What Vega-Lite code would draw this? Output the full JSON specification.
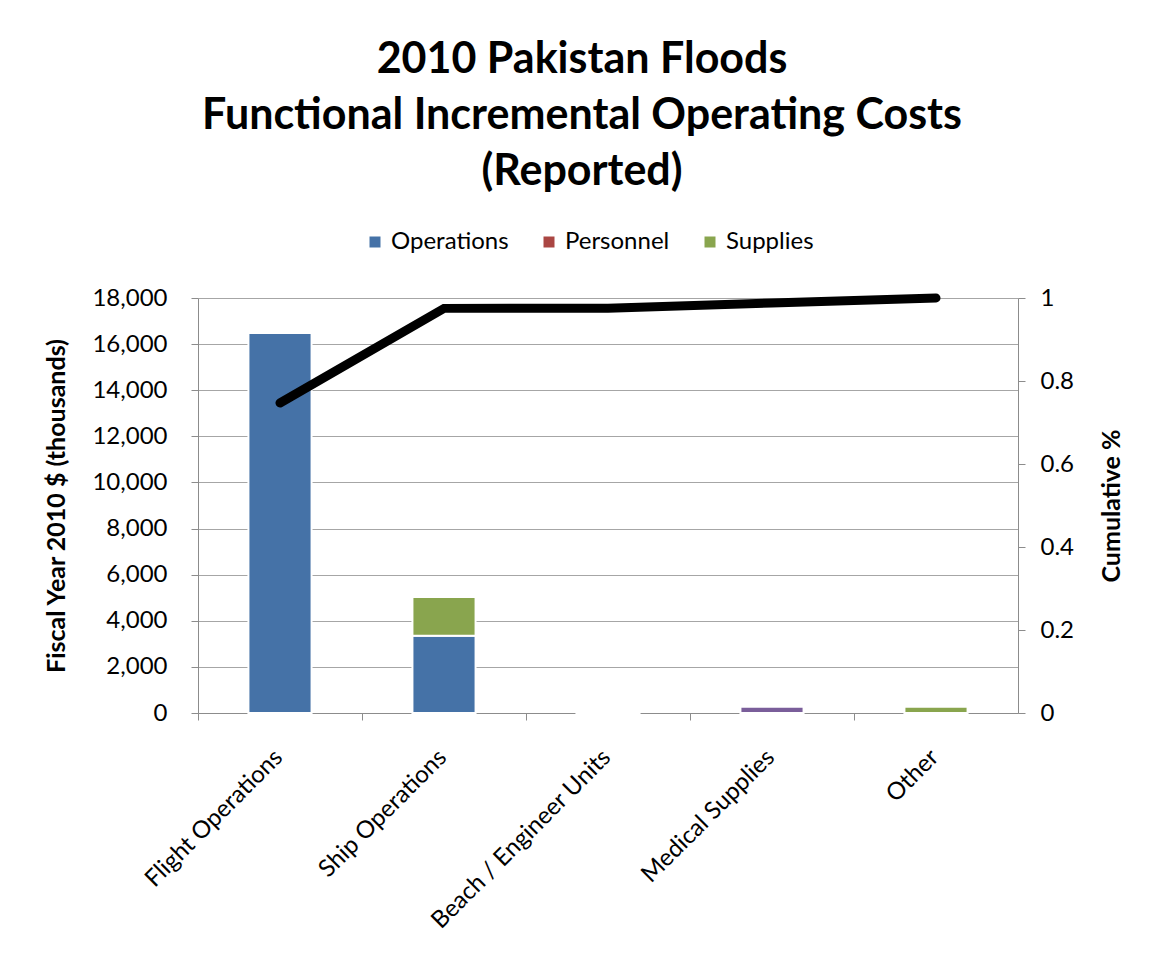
{
  "$schema": "https://vega.github.io/schema/vega-lite/v6.json",
  "width": 820,
  "height": 415,
  "autosize": {"type": "none"},
  "padding": {"left": 198, "top": 298, "right": 136, "bottom": 248},
  "background": "white",
  "config": {
    "view": {"stroke": null},
    "font": "Lato",
    "axis": {
      "labelFont": "Lato",
      "labelColor": "black",
      "titleFont": "Lato",
      "titleColor": "black",
      "domainColor": "#8c8c8c",
      "tickColor": "#8c8c8c",
      "gridColor": "#a6a6a6",
      "tickSize": 7
    }
  },
  "datasets": {
    "costs": [
      {"category": "Flight Operations", "series": "Operations", "value": 16480},
      {"category": "Ship Operations", "series": "Operations", "value": 3350},
      {"category": "Ship Operations", "series": "Supplies", "value": 1680},
      {"category": "Beach / Engineer Units", "series": "Operations", "value": 10},
      {"category": "Medical Supplies", "series": "Medical", "value": 270},
      {"category": "Other", "series": "Supplies", "value": 270}
    ],
    "pareto": [
      {"category": "Flight Operations", "cumulative": 0.747},
      {"category": "Ship Operations", "cumulative": 0.975},
      {"category": "Beach / Engineer Units", "cumulative": 0.9755},
      {"category": "Medical Supplies", "cumulative": 0.988},
      {"category": "Other", "cumulative": 1.0}
    ]
  },
  "title": {
    "text": ["2010 Pakistan Floods", "Functional Incremental Operating Costs", "(Reported)"],
    "font": "Lato",
    "fontSize": 43,
    "fontWeight": "bold",
    "lineHeight": 56,
    "color": "black",
    "anchor": "middle",
    "frame": "group",
    "dx": -26,
    "offset": 36
  },
  "encoding": {
    "x": {
      "field": "category",
      "type": "nominal",
      "sort": null,
      "scale": {
        "domain": ["Flight Operations", "Ship Operations", "Beach / Engineer Units", "Medical Supplies", "Other"],
        "paddingInner": 0.615,
        "paddingOuter": 0.3075
      },
      "axis": {
        "title": null,
        "labelAngle": -45,
        "labelFontSize": 24,
        "labelPadding": 25,
        "labelLimit": 400,
        "tickOffset": -82,
        "labelOffset": 72,
        "domainColor": "#8c8c8c"
      }
    }
  },
  "layer": [
    {
      "data": {"name": "costs"},
      "mark": {"type": "bar", "stroke": "white", "strokeWidth": 2},
      "encoding": {
        "y": {
          "field": "value",
          "type": "quantitative",
          "aggregate": "sum",
          "stack": "zero",
          "scale": {"domain": [0, 18000], "nice": false},
          "axis": {
            "title": "Fiscal Year 2010 $ (thousands)",
            "titleFontSize": 25,
            "titleFontWeight": "bold",
            "titlePadding": 22,
            "values": [0, 2000, 4000, 6000, 8000, 10000, 12000, 14000, 16000, 18000],
            "format": ",.0f",
            "labelFontSize": 24,
            "labelPadding": 24,
            "grid": true
          }
        },
        "color": {
          "field": "series",
          "type": "nominal",
          "scale": {
            "domain": ["Operations", "Personnel", "Supplies", "Medical"],
            "range": ["#4572A7", "#AA4643", "#89A54E", "#7A5E9A"]
          },
          "legend": {
            "title": null,
            "orient": "none",
            "legendX": 165,
            "legendY": -68,
            "direction": "horizontal",
            "values": ["Operations", "Personnel", "Supplies"],
            "symbolType": "square",
            "symbolSize": 121,
            "symbolStrokeWidth": 0,
            "labelFont": "Lato",
            "labelFontSize": 24,
            "labelColor": "black",
            "columnPadding": 28
          }
        },
        "order": {"field": "series", "sort": "ascending"}
      }
    },
    {
      "data": {"name": "pareto"},
      "mark": {"type": "line", "color": "black", "strokeWidth": 9, "strokeCap": "round"},
      "encoding": {
        "y": {
          "field": "cumulative",
          "type": "quantitative",
          "scale": {"domain": [0, 1], "nice": false},
          "axis": {
            "orient": "right",
            "title": "Cumulative %",
            "titleFontSize": 25,
            "titleFontWeight": "bold",
            "titleAngle": -90,
            "titleBaseline": "top",
            "titlePadding": 26,
            "values": [0, 0.2, 0.4, 0.6, 0.8, 1],
            "format": ".1~f",
            "labelFontSize": 24,
            "labelPadding": 15,
            "grid": false
          }
        }
      }
    }
  ],
  "resolve": {"scale": {"y": "independent"}}
}
